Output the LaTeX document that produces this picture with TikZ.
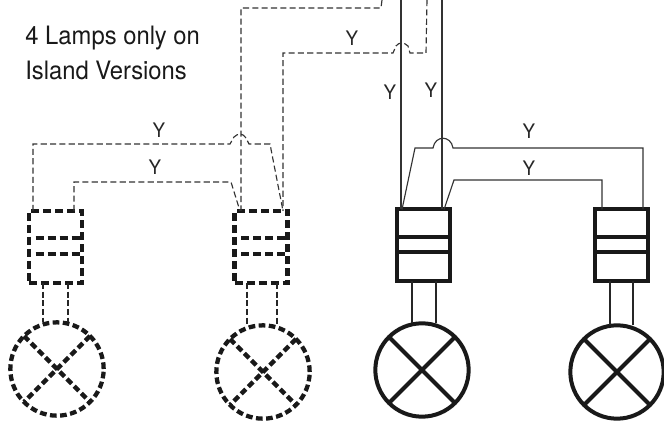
\documentclass[tikz,border=0pt]{standalone}
\usepackage{fontspec}
\setmainfont{TeX Gyre Heros}
\newfontfamily\narrowfont[FakeStretch=0.94]{TeX Gyre Heros}
\usetikzlibrary{calc}
\tikzset{
  x=0.75pt,y=-0.75pt,
  wire/.style={draw=black!80,line width=0.85pt},
  wiredash/.style={draw=black!80,line width=0.85pt,dash pattern=on 4.6pt off 2.4pt},
  heavy/.style={draw=black!90,line width=3pt},
  heavydash/.style={draw=black!90,line width=3.4pt,dash pattern=on 6pt off 3pt},
  lampdash/.style={draw=black!90,line width=3.2pt,dash pattern=on 5pt off 2.6pt},
  leg/.style={draw=black!85,line width=1.4pt},
  legdash/.style={draw=black!85,line width=1.4pt,dash pattern=on 4.5pt off 2pt},
  boxshape/.style={rectangle,minimum width=39.75pt,minimum height=54pt,inner sep=0pt,outer sep=0pt},
  lampshape/.style={circle,minimum size=70pt,inner sep=0pt,outer sep=0pt},
  lab/.style={font=\narrowfont\fontsize{15pt}{16pt}\selectfont,text=black!85,inner sep=0pt},
  note/.style={font=\narrowfont\fontsize{19pt}{26pt}\selectfont,text=black!90,inner sep=0pt,align=left,anchor=north west}
}
\begin{document}
\begin{tikzpicture}
\useasboundingbox (0,0) rectangle (664,423);
% connector boxes
\node[boxshape,heavydash,draw] (b1) at (55.5,247) {};
\node[boxshape,heavydash,draw] (b2) at (261,247) {};
\node[boxshape,heavy,draw] (b3) at (423,245.5) {};
\node[boxshape,heavy,draw] (b4) at (621,245.5) {};
% dividers
\draw[heavydash] ([xshift=5pt]b1.west |- 0,238) -- (b1.east |- 0,238);
\draw[heavydash] ([xshift=5pt]b1.west |- 0,254) -- (b1.east |- 0,254);
\draw[heavydash] ([xshift=5pt]b2.west |- 0,238) -- (b2.east |- 0,238);
\draw[heavydash] ([xshift=5pt]b2.west |- 0,254) -- (b2.east |- 0,254);
\draw[heavy] (b3.west |- 0,237) -- (b3.east |- 0,237);
\draw[heavy] (b3.west |- 0,252) -- (b3.east |- 0,252);
\draw[heavy] (b4.west |- 0,237) -- (b4.east |- 0,237);
\draw[heavy] (b4.west |- 0,252) -- (b4.east |- 0,252);
% lamps
\node[lampshape,lampdash,draw] (l1) at (57,369) {};
\node[lampshape,lampdash,draw] (l2) at (263,372) {};
\node[lampshape,heavy,draw] (l3) at (422,370) {};
\node[lampshape,heavy,draw] (l4) at (617,372) {};
\draw[lampdash] (l1.45) -- (l1.225);
\draw[lampdash] (l1.135) -- (l1.315);
\draw[lampdash] (l2.45) -- (l2.225);
\draw[lampdash] (l2.135) -- (l2.315);
\draw[heavy] (l3.45) -- (l3.225);
\draw[heavy] (l3.135) -- (l3.315);
\draw[heavy] (l4.45) -- (l4.225);
\draw[heavy] (l4.135) -- (l4.315);
% legs
\draw[legdash] (43,0 |- b1.south) -- (43,0 |- l1.north);
\draw[legdash] (68,0 |- b1.south) -- (68,0 |- l1.north);
\draw[legdash] (247,0 |- b2.south) -- (247,0 |- l2.north);
\draw[legdash] (277,0 |- b2.south) -- (277,0 |- l2.north);
\draw[leg] (412,0 |- b3.south) -- (412,0 |- l3.north);
\draw[leg] (436,0 |- b3.south) -- (436,0 |- l3.north);
\draw[leg] (610,0 |- b4.south) -- (610,0 |- l4.north);
\draw[leg] (633,0 |- b4.south) -- (633,0 |- l4.north);
% free ends at the top
\coordinate (topA) at (401,0);
\coordinate (topB) at (442,0);
\coordinate (topC) at (382,0);
\coordinate (topD) at (427,0);
% solid wires
\draw[wire] (topA) -- (401,0 |- b3.north);
\draw[wire] (topB) -- (442,0 |- b3.north);
\draw[wire] (402,0 |- b3.north) -- (415,148) -- (433,148) .. controls (435,135) and (451,135) .. (453,148) -- (643,148) -- (643,0 |- b4.north);
\draw[wire] (444,0 |- b3.north) -- (454,180) -- (602,180) -- (602,0 |- b4.north);
% dashed wires
\draw[wiredash] (topC) -- (381,8) -- (241,8) -- (241,0 |- b2.north);
\draw[wiredash] (topD) -- (426,53) -- (410,53) -- (408,46) .. controls (404,42) and (399,42) .. (396,46) -- (393,53) -- (283,53) -- (283,0 |- b2.north);
\draw[wiredash] (33,0 |- b1.north) -- (33,144) -- (230,144) -- (234,137) .. controls (238,133) and (243,133) .. (246,138) -- (249,144) -- (270,144) -- (283,0 |- b2.north);
\draw[wiredash] (74,0 |- b1.north) -- (74,182) -- (231,182) -- (240,0 |- b2.north);
% labels
\node[lab] (y1) at (159,130) {Y};
\node[lab] (y2) at (155,167) {Y};
\node[lab] (y3) at (352,38) {Y};
\node[lab] (y4) at (390,92) {Y};
\node[lab] (y5) at (431,90) {Y};
\node[lab] (y6) at (529,131) {Y};
\node[lab] (y7) at (529,168) {Y};
\node[note] (txt) at (25,26) {4 Lamps only on\\Island Versions};
\end{tikzpicture}
\end{document}
